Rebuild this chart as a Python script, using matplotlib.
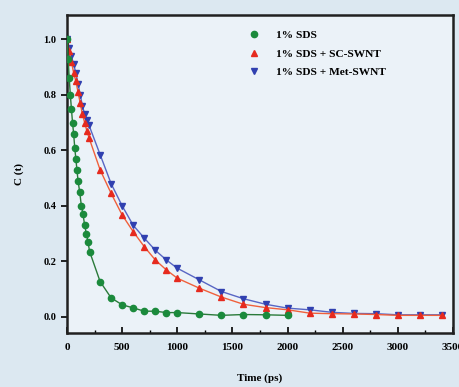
import matplotlib
matplotlib.use("Agg")
import matplotlib.pyplot as plt
from matplotlib.ticker import MultipleLocator

# 1% SDS
t_sds = [0, 10, 20, 30, 40, 50, 60, 70, 80, 90, 100, 115, 130, 145, 160, 175, 190, 205,
         300, 400, 500, 600, 700, 800, 900, 1000, 1200, 1400, 1600, 1800, 2000]
c_sds = [1.0, 0.93, 0.86, 0.80, 0.75, 0.70, 0.66, 0.61, 0.57, 0.53, 0.49, 0.45, 0.40, 0.37,
         0.33, 0.30, 0.27, 0.235, 0.127, 0.068, 0.043, 0.032, 0.02, 0.02, 0.015, 0.015,
         0.01, 0.005, 0.008, 0.007, 0.005]

# 1% SDS + SC-SWNT / Met-SWNT
t_swnt = [0, 20, 40, 60, 80, 100, 120, 140, 160, 180, 200, 300, 400, 500, 600, 700, 800,
          900, 1000, 1200, 1400, 1600, 1800, 2000, 2200, 2400, 2600, 2800, 3000, 3200, 3400]
c_sc = [1.0, 0.96, 0.92, 0.88, 0.85, 0.81, 0.77, 0.73, 0.70, 0.67, 0.645, 0.53, 0.445,
        0.367, 0.307, 0.253, 0.205, 0.169, 0.139, 0.103, 0.071, 0.045, 0.033, 0.025,
        0.013, 0.011, 0.01, 0.008, 0.005, 0.005, 0.005]
c_met = [1.0, 0.97, 0.94, 0.91, 0.88, 0.84, 0.80, 0.76, 0.73, 0.71, 0.69, 0.585, 0.48,
         0.40, 0.33, 0.284, 0.24, 0.205, 0.175, 0.133, 0.091, 0.065, 0.045, 0.031, 0.025,
         0.016, 0.012, 0.011, 0.007, 0.007, 0.007]

labels = ["1% SDS", "1% SDS + SC-SWNT", "1% SDS + Met-SWNT"]

plt.rcParams['font.family'] = ['Liberation Serif', 'DejaVu Serif']
plt.rcParams['font.weight'] = 'bold'

fig = plt.figure(figsize=(4.59, 3.87), dpi=100, facecolor='#dce8f1')
ax = fig.add_axes([0.146, 0.140, 0.841, 0.821])
ax.set_facecolor('#ebf2f8')

ax.plot(t_sds, c_sds, color='#2a7a3a', lw=1.0, marker='o', ms=4.5, mfc='#1b8a3c',
        mec='#1b8a3c', label=labels[0], zorder=3)
ax.plot(t_swnt, c_sc, color='#f0603c', lw=1.0, marker='^', ms=5.0, mfc='#e62a1e',
        mec='#e62a1e', label=labels[1], zorder=2)
ax.plot(t_swnt, c_met, color='#5866c4', lw=1.0, marker='v', ms=5.0, mfc='#3040b0',
        mec='#3040b0', label=labels[2], zorder=1)

ax.set_xlim(0, 3500)
ax.set_ylim(-0.058, 1.088)
ax.xaxis.set_major_locator(MultipleLocator(500))
ax.xaxis.set_minor_locator(MultipleLocator(250))
ax.yaxis.set_major_locator(MultipleLocator(0.2))
ax.yaxis.set_major_formatter(matplotlib.ticker.FormatStrFormatter('%.1f'))
ax.tick_params(axis='x', which='both', direction='in', labelsize=8, pad=7)
ax.tick_params(axis='x', which='major', length=4, width=1.2)
ax.tick_params(axis='x', which='minor', length=2.5, width=1.0)
ax.tick_params(axis='y', direction='out', length=4, width=1.2, labelsize=7.5)
for s in ax.spines.values():
    s.set_linewidth(1.8)
    s.set_color('#202020')

ax.set_xlabel('Time (ps)', fontsize=8, fontweight='bold', labelpad=16)
ax.set_ylabel('C (t)', fontsize=8, fontweight='bold', labelpad=14)

leg = ax.legend(loc='upper left', bbox_to_anchor=(0.44, 0.985), frameon=False,
                handlelength=1.2, handletextpad=1.3, labelspacing=0.75,
                prop={'weight': 'bold', 'size': 8.2})
for h in leg.get_lines():
    h.set_linestyle('None')

fig.savefig('out.png', dpi=100, facecolor=fig.get_facecolor())
